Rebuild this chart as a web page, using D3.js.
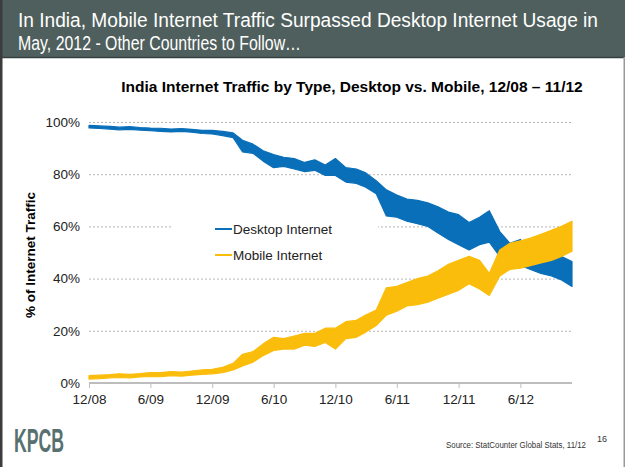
<!DOCTYPE html>
<html>
<head>
<meta charset="utf-8">
<script src="https://cdn.jsdelivr.net/npm/d3@7"></script>
<style>
  body { margin: 0; background: #fff; }
  svg { display: block; font-family: "Liberation Sans", Arial, sans-serif; }
</style>
</head>
<body>
<div id="chart"></div>
<script>
// Months run from 12/08 to 11/12, one reading per month (low / high of the daily band)
const firstMonth = "12/08";
const desktopLow  = [97.7, 97.5, 97.3, 97.0, 97.2, 96.9, 96.7, 96.4, 96.2, 96.4, 96.1, 95.6,
                     95.4, 94.8, 94.0, 88.5, 88.0, 85.0, 82.5, 83.0, 82.0, 81.0, 81.5, 79.5,
                     79.5, 77.0, 76.5, 75.0, 72.5, 64.0, 63.5, 62.0, 61.0, 60.0, 57.5, 55.0,
                     53.0, 51.0, 53.0, 54.0, 48.5, 45.0, 45.0, 43.5, 42.0, 41.0, 39.5, 37.0];
const desktopHigh = [98.7, 98.5, 98.3, 98.0, 98.2, 97.9, 97.7, 97.6, 97.3, 97.5, 97.2, 96.8,
                     96.8, 96.4, 95.8, 93.0, 91.5, 89.0, 87.5, 86.5, 86.0, 84.5, 85.5, 83.5,
                     86.0, 82.5, 82.0, 80.5, 77.5, 74.0, 72.0, 70.5, 70.0, 69.0, 67.5, 65.5,
                     64.5, 61.5, 63.5, 66.0, 58.0, 53.5, 55.0, 50.0, 50.0, 49.5, 48.5, 46.5];
const mobileLow   = [1.5, 1.7, 2.0, 2.1, 2.0, 2.3, 2.5, 2.4, 2.8, 2.6, 3.0, 3.3,
                     3.5, 4.0, 5.0, 6.5, 8.0, 10.5, 12.5, 13.0, 13.0, 14.5, 14.0, 15.5,
                     13.0, 17.0, 17.5, 19.5, 22.0, 26.0, 27.5, 29.5, 30.0, 31.0, 32.5, 34.0,
                     35.5, 38.0, 36.0, 33.5, 41.0, 43.5, 44.0, 45.0, 46.0, 47.0, 48.5, 50.5];
const mobileHigh  = [2.8, 3.0, 3.2, 3.5, 3.3, 3.6, 4.0, 4.0, 4.4, 4.2, 4.6, 5.0,
                     5.2, 6.0, 7.5, 11.0, 12.0, 15.0, 17.5, 17.0, 18.0, 19.0, 19.0, 21.0,
                     21.0, 23.5, 24.0, 26.0, 28.0, 36.5, 37.0, 38.5, 40.0, 41.0, 43.0, 45.5,
                     47.0, 48.5, 47.0, 42.0, 51.0, 53.5, 54.5, 55.5, 57.0, 58.5, 60.0, 62.0];
const xTickLabels = ["12/08", "6/09", "12/09", "6/10", "12/10", "6/11", "12/11", "6/12"];
const yTickValues = [0, 20, 40, 60, 80, 100];
const seriesNames = ["Desktop Internet", "Mobile Internet"];
const seriesColors = ["#0a6fb9", "#fbbd0b"];

const W = 625, H = 467;
const svg = d3.select("#chart").append("svg").attr("width", W).attr("height", H);

// Frame and header bar
svg.append("rect").attr("x", 0).attr("y", 0).attr("width", W).attr("height", H).attr("fill", "#fff");
svg.append("rect").attr("x", 0).attr("y", 0).attr("width", W).attr("height", 57).attr("fill", "#4f5f5d");
svg.append("line").attr("x1", 0).attr("x2", W).attr("y1", 57.5).attr("y2", 57.5).attr("stroke", "#34403f").attr("stroke-width", 1.5);
svg.append("rect").attr("x", 0).attr("y", 0).attr("width", 2.5).attr("height", H).attr("fill", "#3c3c3c");
svg.append("rect").attr("x", W - 1.5).attr("y", 57).attr("width", 1.5).attr("height", H).attr("fill", "#9a9a9a");

// header text is condensed in the reference; squeeze it to the same width
svg.append("text")
    .attr("x", 18).attr("y", 27)
    .attr("textLength", 580).attr("lengthAdjust", "spacingAndGlyphs")
    .attr("fill", "#fff").style("font-size", "20px")
    .text("In India, Mobile Internet Traffic Surpassed Desktop Internet Usage in");
svg.append("text")
    .attr("x", 18).attr("y", 50)
    .attr("textLength", 283).attr("lengthAdjust", "spacingAndGlyphs")
    .attr("fill", "#fff").style("font-size", "20px")
    .text("May, 2012 - Other Countries to Follow…");

// Chart title
svg.append("text")
    .attr("x", 352).attr("y", 92)
    .attr("text-anchor", "middle")
    .style("font-size", "15.5px").style("font-weight", "bold")
    .text("India Internet Traffic by Type, Desktop vs. Mobile, 12/08 – 11/12");

// Scales
const parseMonth = d3.timeParse("%m/%y");
const start = parseMonth(firstMonth);
const months = desktopLow.map((d, i) => d3.timeMonth.offset(start, i));
const x = d3.scaleTime().domain([start, months[months.length - 1]]).range([89, 572]);
const y = d3.scaleLinear().domain([0, 100]).range([383, 122]);

// Gridlines
svg.append("g").selectAll("line")
    .data(yTickValues.filter(v => v > 0))
    .join("line")
    .attr("x1", 89).attr("x2", 572)
    .attr("y1", d => y(d) + 0.5).attr("y2", d => y(d) + 0.5)
    .attr("stroke", "#b5b5b5").attr("stroke-width", 1).attr("stroke-dasharray", "2,2");

// Legend background hides the gridline under it
svg.append("rect").attr("x", 172).attr("y", 208).attr("width", 206).attr("height", 62).attr("fill", "#fff");

// Y axis
const yAxis = svg.append("g")
    .attr("transform", "translate(80,0)")
    .call(d3.axisLeft(y).tickValues(yTickValues).tickFormat(d => d + "%").tickSize(0).tickPadding(0));
yAxis.select(".domain").remove();
yAxis.selectAll("text").style("font-size", "13.5px").attr("fill", "#222").attr("font-family", "'Liberation Sans', Arial, sans-serif");

svg.append("text")
    .attr("transform", "translate(35,255) rotate(-90)")
    .attr("text-anchor", "middle")
    .style("font-size", "13.5px").style("font-weight", "bold")
    .text("% of Internet Traffic");

// Bands
const series = [
    { name: seriesNames[0], low: desktopLow, high: desktopHigh, color: seriesColors[0] },
    { name: seriesNames[1], low: mobileLow, high: mobileHigh, color: seriesColors[1] }
];
const area = d3.area()
    .x((d, i) => x(months[i]))
    .y0(d => y(d[0]))
    .y1(d => y(d[1]));
// desktop first, mobile drawn over it
series.forEach(s => {
    const pts = s.low.map((v, i) => [v, s.high[i]]);
    svg.append("path")
        .datum(pts)
        .attr("d", area)
        .attr("fill", s.color)
        .attr("stroke", s.color)
        .attr("stroke-width", 1.2)
        .attr("stroke-linejoin", "round");
});

// X axis
const xAxis = svg.append("g")
    .attr("transform", "translate(0,383)")
    .call(d3.axisBottom(x).tickValues(xTickLabels.map(parseMonth)).tickFormat(d3.timeFormat("%-m/%y")).tickSize(5).tickPadding(6));
xAxis.select(".domain").attr("stroke", "#bdbdbd").attr("stroke-width", 2).attr("d", "M89,0H572");
xAxis.selectAll(".tick line").attr("stroke", "#bdbdbd").attr("stroke-width", 1);
xAxis.selectAll("text").style("font-size", "13.5px").attr("fill", "#222").attr("font-family", "'Liberation Sans', Arial, sans-serif");

// Legend
const legend = svg.append("g");
series.forEach((s, i) => {
    const ly = 229 + i * 26;
    legend.append("line").attr("x1", 215).attr("x2", 232).attr("y1", ly).attr("y2", ly)
        .attr("stroke", s.color).attr("stroke-width", 2);
    legend.append("text").attr("x", 233).attr("y", ly + 5)
        .style("font-size", "13.5px").attr("fill", "#222").text(s.name);
});

// Footer
svg.append("text")
    .attr("x", 14).attr("y", 452)
    .attr("textLength", 50).attr("lengthAdjust", "spacingAndGlyphs")
    .attr("fill", "#587170")
    .style("font-size", "33px").style("font-weight", "bold")
    .text("KPCB");
svg.append("text")
    .attr("x", 446).attr("y", 448)
    .attr("textLength", 140).attr("lengthAdjust", "spacingAndGlyphs")
    .style("font-size", "8.5px").attr("fill", "#333")
    .text("Source: StatCounter Global Stats, 11/12");
svg.append("text")
    .attr("x", 597).attr("y", 442)
    .style("font-size", "9px").attr("fill", "#333")
    .text("16");
</script>
</body>
</html>
